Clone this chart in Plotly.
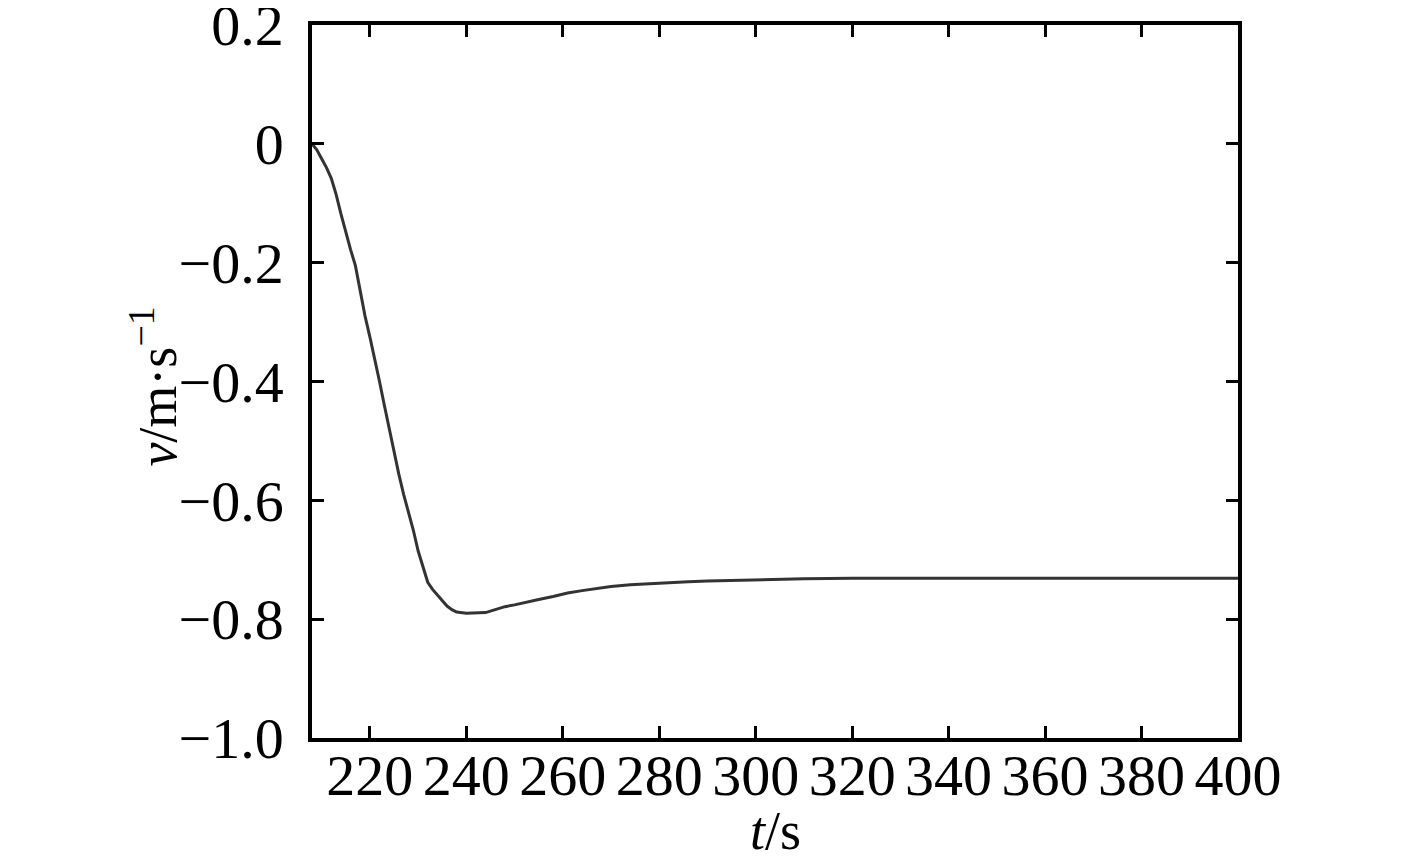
import plotly.graph_objects as go

# velocity curve v(t)
t_s = [208, 209, 210, 211, 212, 213, 214, 215, 216, 217, 218, 219, 220, 221, 222, 223, 224, 225,
       226, 227, 228, 229, 230, 231, 232, 233, 234, 235, 236, 237, 238, 240, 242, 244, 246, 248,
       250, 252, 255, 258, 261, 264, 267, 270, 274, 278, 282, 286, 290, 295, 300, 310, 320, 340,
       360, 380, 400]
v_ms = [0.000, -0.010, -0.025, -0.040, -0.058, -0.085, -0.118, -0.150, -0.178, -0.205, -0.250,
        -0.290, -0.325, -0.360, -0.400, -0.440, -0.480, -0.520, -0.556, -0.590, -0.620, -0.650,
        -0.685, -0.712, -0.738, -0.750, -0.760, -0.770, -0.778, -0.784, -0.788, -0.790, -0.790,
        -0.789, -0.784, -0.779, -0.776, -0.772, -0.767, -0.762, -0.756, -0.752, -0.748, -0.745,
        -0.742, -0.740, -0.738, -0.737, -0.736, -0.735, -0.733, -0.732, -0.731, -0.731, -0.731,
        -0.731, -0.731]

x_ticks = [220, 240, 260, 280, 300, 320, 340, 360, 380, 400]
y_ticks = [0.2, 0, -0.2, -0.4, -0.6, -0.8, -1.0]
y_ticktext = ["0.2", "0", "\u22120.2", "\u22120.4", "\u22120.6", "\u22120.8", "\u22121.0"]

font_name = "Liberation Serif"

fig = go.Figure()
fig.add_trace(go.Scatter(
    x=t_s, y=v_ms, mode="lines",
    line=dict(color="#333333", width=3),
    showlegend=False))

axis_common = dict(
    showline=True, linecolor="black", linewidth=3.5, mirror="ticks",
    ticks="inside", ticklen=12, tickwidth=2.5, tickcolor="black",
    showgrid=False, zeroline=False, automargin=False, ticklabeloverflow="allow",
    tickfont=dict(family=font_name, size=58, color="black"))

fig.update_xaxes(range=[208, 400.01], tickvals=x_ticks, ticklabelstandoff=-16, **axis_common)
fig.update_yaxes(range=[-1.0001, 0.2001], tickvals=y_ticks, ticktext=y_ticktext,
                 ticklabelstandoff=13, **axis_common)

# axis titles as annotations so they can be placed like the original
fig.add_annotation(
    text="<i>v</i>/m\u00b7s<sup>\u22121</sup>", textangle=-90,
    xref="paper", yref="paper", x=-0.1705, y=0.493, xanchor="center", yanchor="middle",
    showarrow=False, font=dict(family=font_name, size=54, color="black"))
fig.add_annotation(
    text="<i>t</i>/s",
    xref="paper", yref="paper", x=0.5, y=-0.0856, xanchor="center", yanchor="top",
    showarrow=False, font=dict(family=font_name, size=54, color="black"))

# the page adds an 8px body margin, so the margins are shifted by that much
fig.update_layout(
    width=1417, height=856,
    margin=dict(l=304, r=187, t=17, b=126),
    paper_bgcolor="white", plot_bgcolor="white")

fig.write_html("out.html")
